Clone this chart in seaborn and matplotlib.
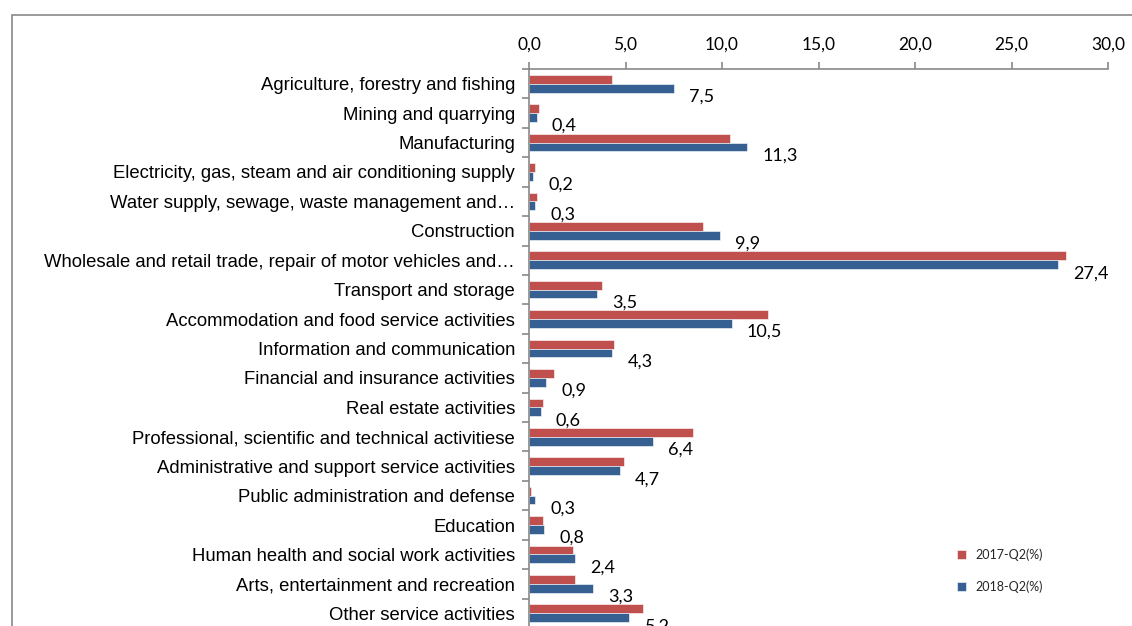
"""
Sector shares of employment, 2017-Q2 vs 2018-Q2 (horizontal grouped bars).
"""

import matplotlib
matplotlib.use('Agg')
import matplotlib.pyplot as plt
from matplotlib.patches import Rectangle
from matplotlib.ticker import FuncFormatter
import numpy as np
import pandas as pd
import seaborn as sns

# ── Data ──
sectors = [
    'Agriculture, forestry and fishing',
    'Mining and quarrying',
    'Manufacturing',
    'Electricity, gas, steam and air conditioning supply',
    'Water supply, sewage, waste management and…',
    'Construction',
    'Wholesale and retail trade, repair of motor vehicles and…',
    'Transport and storage',
    'Accommodation and food service activities',
    'Information and communication',
    'Financial and insurance activities',
    'Real estate activities',
    'Professional, scientific and technical activitiese',
    'Administrative and support service activities',
    'Public administration and defense',
    'Education',
    'Human health and social work activities',
    'Arts, entertainment and recreation',
    'Other service activities',
]
share_2017 = [4.3, 0.5, 10.4, 0.3, 0.4, 9.0, 27.8, 3.8, 12.4, 4.4,
              1.3, 0.7, 8.5, 4.9, 0.1, 0.7, 2.3, 2.4, 5.9]
share_2018 = [7.5, 0.4, 11.3, 0.2, 0.3, 9.9, 27.4, 3.5, 10.5, 4.3,
              0.9, 0.6, 6.4, 4.7, 0.3, 0.8, 2.4, 3.3, 5.2]
periods = ['2017-Q2(%)', '2018-Q2(%)']
colors = ['#C0504D', '#376092']
x_ticks = [0, 5, 10, 15, 20, 25, 30]

n = len(sectors)
df = pd.DataFrame({
    'sector': sectors * 2,
    'period': [periods[0]] * n + [periods[1]] * n,
    'share': share_2017 + share_2018,
})

sns.set_theme(style='white')
plt.rcParams['font.family'] = ['Liberation Sans', 'DejaVu Sans']
num_font = ['Lato', 'DejaVu Sans']
grey = '#898989'

fig = plt.figure(figsize=(11.32, 6.26), dpi=100)
fig.patch.set_facecolor('white')
ax = fig.add_axes([529 / 1132, -2 / 626, 579 / 1132, 559 / 626])

sns.barplot(data=df, y='sector', x='share', hue='period', order=sectors,
            hue_order=periods, palette=colors, saturation=1, width=0.6,
            orient='h', errorbar=None, edgecolor='white', linewidth=0.4, ax=ax)

# ── Axes styling ──
ax.set_xlim(0, 30)
ax.set_xticks(x_ticks)
ax.xaxis.set_major_formatter(FuncFormatter(lambda v, _: f'{v:.1f}'.replace('.', ',')))
ax.xaxis.tick_top()
ax.set_xlabel('')
ax.set_ylabel('')
ax.tick_params(axis='x', which='major', direction='out', length=5, width=1.2,
               color=grey, pad=7, labelsize=12.5, labelcolor='black')
for lbl in ax.get_xticklabels():
    lbl.set_family(num_font)
ax.set_yticks(np.arange(-0.5, n, 1), minor=True)
ax.tick_params(axis='y', which='major', length=0, pad=10, labelsize=13.3,
               labelcolor='black')
ax.tick_params(axis='y', which='minor', direction='out', length=5, width=1.2,
               color=grey, left=True)
for side in ['bottom', 'right']:
    ax.spines[side].set_visible(False)
for side in ['top', 'left']:
    ax.spines[side].set_color(grey)
    ax.spines[side].set_linewidth(1.2)

# ── Data labels for 2018 ──
for bar, v in zip(ax.containers[1], share_2018):
    ax.annotate(f'{v:.1f}'.replace('.', ','),
                xy=(bar.get_x() + bar.get_width(), bar.get_y() + bar.get_height()),
                xytext=(11, -3), textcoords='offset points', ha='left', va='center',
                fontsize=13, family=num_font, color='black', annotation_clip=False)

# ── Legend ──
handles, labels = ax.get_legend_handles_labels()
ax.legend(handles, labels, loc='upper left', bbox_to_anchor=(0.739, 0.142),
          frameon=False, borderpad=0, borderaxespad=0, handlelength=0.75,
          handleheight=0.75, handletextpad=0.75, labelspacing=1.55,
          prop={'family': num_font, 'size': 9})

# outer chart frame
fig.patches.append(Rectangle((12 / 1132, -0.05), 1.0, 0.05 + 1 - 15 / 626,
                             transform=fig.transFigure, fill=False,
                             edgecolor=grey, linewidth=1.2))

fig.savefig('out.png', dpi=100, facecolor='white')
plt.close(fig)
